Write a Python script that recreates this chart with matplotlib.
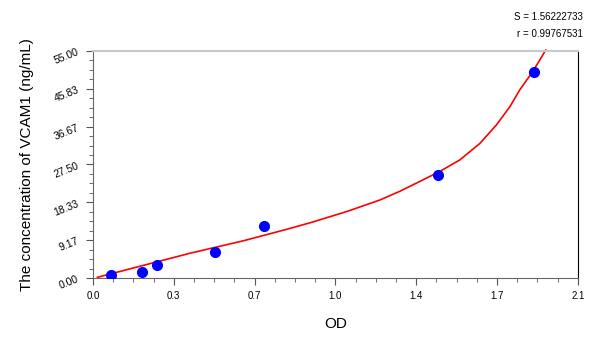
import numpy as np
import matplotlib
matplotlib.use('Agg')
import matplotlib.pyplot as plt
from matplotlib.ticker import AutoMinorLocator

plt.rcParams['font.family'] = ['Liberation Sans', 'DejaVu Sans']

## standard points
od = [0.076, 0.213, 0.277, 0.530, 0.742, 1.495, 1.909]
conc = [0.78, 1.56, 3.125, 6.25, 12.5, 25.0, 50.0]

## fitted curve
fit_x = [0.019, 0.20, 0.42, 0.65, 0.846, 0.954, 1.099, 1.243, 1.329, 1.416,
         1.502, 1.589, 1.676, 1.748, 1.806, 1.849, 1.900, 1.930, 1.961]
fit_y = [0.17, 2.8, 6.0, 9.0, 11.9, 13.6, 16.1, 18.9, 21.0, 23.4,
         25.8, 28.6, 32.6, 37.1, 41.5, 45.6, 49.6, 52.3, 55.2]

xticks = [0.0, 0.35, 0.7, 1.05, 1.4, 1.75, 2.1]
xlabels = ['0.0', '0.3', '0.7', '1.0', '1.4', '1.7', '2.1']
yticks = [0.0, 55/6, 110/6, 27.5, 220/6, 275/6, 55.0]
ylabels = ['0.00', '9.17', '18.33', '27.50', '36.67', '45.83', '55.00']

fig = plt.figure(figsize=(6, 3.37), dpi=100)
ax = fig.add_axes([0.155, 0.175, 0.808, 0.674])

ax.plot(fit_x, fit_y, color='red', lw=1.2, zorder=2, clip_on=False)
ax.plot(od, conc, 'o', color='#0000ff', ms=7, mec='#0000ff', zorder=3)

ax.set_xlim(0, 2.1)
ax.set_ylim(0, 55)
ax.set_xticks(xticks)
ax.set_xticklabels(xlabels, fontsize=7)
ax.set_yticks(yticks)
ax.set_yticklabels(ylabels, fontsize=7.5, rotation=22)
ax.xaxis.set_minor_locator(AutoMinorLocator(4))
ax.yaxis.set_minor_locator(AutoMinorLocator(4))
ax.tick_params(which='major', length=5, color='#555555', direction='out', pad=4)
ax.tick_params(which='minor', length=3, color='#555555', direction='out')

ax.spines['top'].set_color('#c8c8c8')
ax.spines['top'].set_linewidth(1.5)
ax.spines['right'].set_color('black')
ax.spines['left'].set_color('#666666')
ax.spines['bottom'].set_color('#666666')

ax.set_xlabel('OD', fontsize=11, labelpad=12)
ax.set_ylabel('The concentration of VCAM1 (ng/mL)', fontsize=11, labelpad=13)

fig.text(0.972, 0.95, 'S = 1.56222733', fontsize=7, ha='right', va='center')
fig.text(0.972, 0.90, 'r = 0.99767531', fontsize=7, ha='right', va='center')

plt.savefig('out.png', dpi=100)
